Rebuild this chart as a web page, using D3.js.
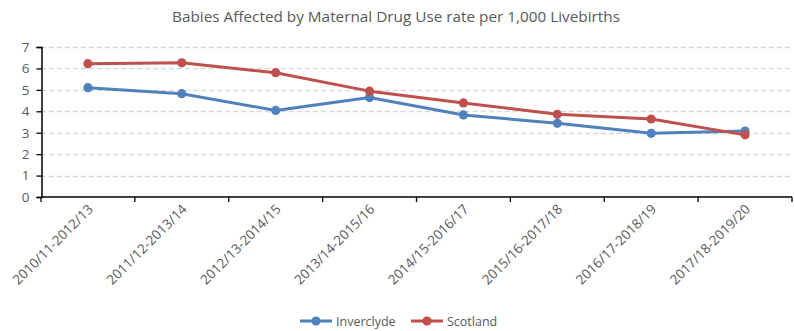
<!DOCTYPE html>
<html>
<head>
<meta charset="utf-8">
<script src="https://cdn.jsdelivr.net/npm/d3@7"></script>
<style>
  html, body { margin: 0; padding: 0; background: #fff; }
  svg { display: block; font-family: "Open Sans", "Liberation Sans", sans-serif; }
</style>
</head>
<body>
<svg id="chart" width="794" height="331"></svg>
<script>
const periods = [
  "2010/11-2012/13", "2011/12-2013/14", "2012/13-2014/15", "2013/14-2015/16",
  "2014/15-2016/17", "2015/16-2017/18", "2016/17-2018/19", "2017/18-2019/20"
];
const inverclyde = [5.1, 4.82, 4.04, 4.64, 3.83, 3.44, 2.97, 3.08];
const scotland   = [6.22, 6.26, 5.8, 4.94, 4.39, 3.86, 3.64, 2.9];
const yTicks = [0, 1, 2, 3, 4, 5, 6, 7];
const seriesNames = ["Inverclyde", "Scotland"];
const seriesColors = ["#4F81BD", "#C0504D"];

const svg = d3.select("#chart");
const margin = { left: 41, right: 2, top: 47, bottom: 134 };
const W = 794, H = 331;

const x = d3.scaleBand().domain(periods).range([margin.left, W - margin.right]);
const y = d3.scaleLinear().domain([0, 7]).range([H - margin.bottom, margin.top]);

// title
const title = svg.append("text")
  .attr("x", 396).attr("y", 22)
  .attr("text-anchor", "middle")
  .attr("font-size", 14)
  .attr("fill", "#595959")
  .text("Babies Affected by Maternal Drug Use rate per 1,000 Livebirths");
title.attr("textLength", 448).attr("lengthAdjust", "spacingAndGlyphs");

// dashed horizontal gridlines
svg.append("g").selectAll("line")
  .data(yTicks.filter(d => d > 0))
  .join("line")
  .attr("x1", margin.left).attr("x2", W - margin.right)
  .attr("y1", d => Math.round(y(d)) + 0.5).attr("y2", d => Math.round(y(d)) + 0.5)
  .attr("stroke", "#d9d9d9").attr("stroke-width", 1.3)
  .attr("stroke-dasharray", "5,3");

// y axis
const yAxis = svg.append("g")
  .attr("transform", `translate(${margin.left + 0.5},0)`)
  .call(d3.axisLeft(y).tickValues(yTicks).tickSize(5).tickPadding(7).tickFormat(d3.format("d")));
yAxis.select(".domain").attr("stroke", "#000").attr("stroke-width", 1.5);
yAxis.selectAll(".tick line").attr("stroke", "#000").attr("stroke-width", 1.3);
yAxis.selectAll("text").attr("fill", "#595959").attr("font-size", 13.5)
  .attr("font-family", "Open Sans, sans-serif");

// x axis with ticks at category boundaries
const xg = svg.append("g").attr("transform", `translate(0,${y(0)})`);
xg.append("line")
  .attr("x1", margin.left).attr("x2", W - margin.right)
  .attr("stroke", "#000").attr("stroke-width", 1.5);
const bounds = periods.map(p => x(p)).concat([x(periods[periods.length - 1]) + x.bandwidth()]);
xg.selectAll("line.tk").data(bounds).join("line").attr("class", "tk")
  .attr("x1", d => d).attr("x2", d => d).attr("y1", 0).attr("y2", 5)
  .attr("stroke", "#000").attr("stroke-width", 1.3);
xg.selectAll("text").data(periods).join("text")
  .attr("transform", d => `translate(${x(d) + x.bandwidth() / 2 + 6},${13}) rotate(-45)`)
  .attr("text-anchor", "end")
  .attr("font-size", 13.5)
  .attr("fill", "#595959")
  .text(d => d);

// series lines and markers
const cx = d => x(d) + x.bandwidth() / 2;
[inverclyde, scotland].forEach((vals, i) => {
  const pts = periods.map((p, j) => [cx(p), y(vals[j])]);
  svg.append("path")
    .attr("d", d3.line()(pts))
    .attr("fill", "none")
    .attr("stroke", seriesColors[i])
    .attr("stroke-width", 3)
    .attr("stroke-linejoin", "round");
  svg.append("g").selectAll("circle").data(pts).join("circle")
    .attr("cx", d => d[0]).attr("cy", d => d[1]).attr("r", 4.6)
    .attr("fill", seriesColors[i]);
});

// legend
const legendX = [300, 411];
seriesNames.forEach((name, i) => {
  const g = svg.append("g").attr("transform", `translate(${legendX[i]},321)`);
  g.append("line").attr("x1", 0).attr("x2", 32).attr("stroke", seriesColors[i]).attr("stroke-width", 3);
  g.append("circle").attr("cx", 16).attr("r", 4.6).attr("fill", seriesColors[i]);
  g.append("text").attr("x", 36).attr("y", 4.5)
    .attr("font-size", 12.5).attr("fill", "#595959").text(name);
});
</script>
</body>
</html>
